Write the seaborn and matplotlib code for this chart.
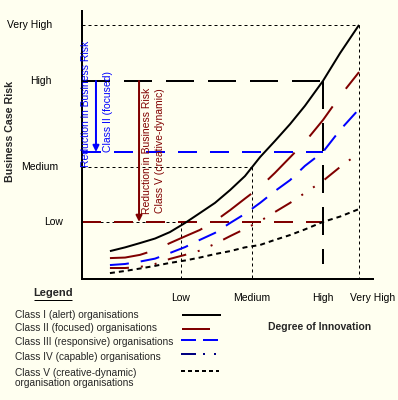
import matplotlib
matplotlib.use("Agg")
import matplotlib.pyplot as plt
import seaborn as sns
from matplotlib.lines import Line2D

# ---------------- data ----------------
innovation = [9.6, 14.8, 19.9, 25.1, 30.2, 35.4, 40.5, 45.7, 50.9, 56.0,
              61.2, 66.3, 71.5, 76.6, 82.8, 88.7, 95.2]
class_i = [10.4, 11.8, 13.4, 15.1, 17.5, 20.9, 24.6, 28.4, 33.2, 38.4,
           45.5, 51.5, 57.8, 64.6, 73.9, 84.3, 94.8]
class_ii = [7.8, 8.0, 9.0, 10.8, 13.4, 15.9, 18.3, 21.6, 25.7, 30.0,
            34.3, 39.6, 45.4, 51.1, 59.3, 68.3, 77.2]
class_iii = [5.2, 5.6, 6.5, 7.6, 9.7, 11.9, 14.6, 17.2, 20.9, 24.3,
             28.4, 32.8, 36.9, 42.2, 47.4, 55.6, 63.4]
class_iv = [4.1, 4.1, 4.5, 5.6, 7.5, 9.0, 10.6, 13.1, 16.0, 18.7,
            21.6, 25.0, 28.4, 32.1, 36.6, 41.8, 47.0]
class_v = [2.2, 3.0, 3.9, 4.9, 6.0, 6.9, 8.0, 9.3, 10.4, 11.8,
           12.7, 14.6, 16.4, 18.5, 21.3, 23.3, 26.1]

risk_labels = ["Low", "Medium", "High", "Very High"]
risk_values = [21.3, 41.8, 73.9, 94.8]
innov_labels = ["Low", "Medium", "High", "Very High"]
innov_values = [34.0, 58.4, 82.8, 95.2]
class_iii_risk_at_high = 47.4
class_v_risk_at_high = 21.3
high_marker_bottom = 5.6

legend_labels = [
    "Class I (alert) organisations",
    "Class II (focused) organisations",
    "Class III (responsive) organisations",
    "Class IV (capable) organisations",
    "Class V (creative-dynamic)\norganisation organisations",
]

# ---------------- style ----------------
sns.set_theme(style="white")
plt.rcParams["font.family"] = ["Liberation Sans", "DejaVu Sans"]
plt.rcParams["lines.scale_dashes"] = False
plt.rcParams["lines.solid_capstyle"] = "butt"
plt.rcParams["lines.dash_capstyle"] = "butt"

BG = "#FFFFF0"
MAROON = "#800000"
BLUE = "#0000FF"
NAVY = "#000080"


def px(v):
    return v * 0.72


W, H = 398, 400
fig = plt.figure(figsize=(W / 100, H / 100), dpi=100, facecolor=BG)
ax = fig.add_axes([82 / W, 1 - 279 / H, 291 / W, 268 / H])
ax.set_facecolor(BG)
ax.set_xlim(0, 100)
ax.set_ylim(0, 100)
for s in ["top", "right"]:
    ax.spines[s].set_visible(False)
for s in ["left", "bottom"]:
    ax.spines[s].set_color("black")
    ax.spines[s].set_linewidth(px(2))
ax.set_xticks([])
ax.set_yticks([])
ax.set_xlabel("")
ax.set_ylabel("")

dotted = dict(color="black", lw=px(1), linestyle=(0, (px(3), px(3))))
# dotted guide lines
ax.plot([0, innov_values[3]], [risk_values[3]] * 2, **dotted)
ax.plot([innov_values[3]] * 2, [risk_values[3], 0], **dotted)
ax.plot([0, innov_values[1]], [risk_values[1]] * 2, **dotted)
ax.plot([innov_values[1]] * 2, [risk_values[1], 0], **dotted)
ax.plot([0, innov_values[0]], [risk_values[0]] * 2, **dotted)
ax.plot([innov_values[0]] * 2, [risk_values[0], 0], **dotted)

# dashed markers at High innovation
ax.plot([0, innov_values[2]], [risk_values[2]] * 2, color="black", lw=px(2),
        linestyle=(0, (px(28), px(14))), zorder=3)
ax.plot([innov_values[2]] * 2, [risk_values[2], high_marker_bottom], color="black",
        lw=px(2), linestyle=(0, (px(28), px(14))))
ax.plot([0, innov_values[2]], [class_iii_risk_at_high] * 2, color=BLUE, lw=px(2),
        linestyle=(0, (px(19), px(13))))
ax.plot([0, innov_values[2]], [class_v_risk_at_high] * 2, color=MAROON, lw=px(2),
        linestyle=(0, (px(19), px(13))))

# curves
curves = [
    (class_i, "black", "-"),
    (class_ii, MAROON, (0, (px(38), px(22)))),
    (class_iii, BLUE, (0, (px(19), px(12)))),
    (class_iv, MAROON, (0, (px(19), px(12), px(2), px(12), px(2), px(12)))),
    (class_v, "black", (0, (px(5), px(4)))),
]
for yv, col, ls in curves:
    sns.lineplot(x=innovation, y=yv, ax=ax, color=col, lw=px(2), linestyle=ls,
                 legend=False, sort=False)

# arrows
ax.annotate("", xy=(4.8, class_iii_risk_at_high), xytext=(4.8, risk_values[2]),
            arrowprops=dict(arrowstyle="-|>", color=BLUE, lw=px(2),
                            mutation_scale=9, shrinkA=0, shrinkB=0))
ax.annotate("", xy=(19.6, class_v_risk_at_high), xytext=(19.6, risk_values[2]),
            arrowprops=dict(arrowstyle="-|>", color=MAROON, lw=px(2),
                            mutation_scale=9, shrinkA=0, shrinkB=0))

fs = 7.5
ax.text(1.5, 65.5, "Reduction in Business Risk", rotation=90, color=BLUE,
        fontsize=fs, ha="center", va="center")
ax.text(9.1, 62.5, "Class II (focused)", rotation=90, color=BLUE,
        fontsize=fs, ha="center", va="center")
ax.text(22.3, 47.9, "Reduction in Business Risk", rotation=90, color=MAROON,
        fontsize=fs, ha="center", va="center")
ax.text(26.8, 47.9, "Class V (creative-dynamic)", rotation=90, color=MAROON,
        fontsize=fs, ha="center", va="center")

# risk (y) labels
ytr = ax.get_yaxis_transform()
ylab_x = [-0.098, -0.144, -0.142, -0.179]
for lab, v, xx in zip(risk_labels, risk_values, ylab_x):
    ax.text(xx, v, lab, transform=ytr, fontsize=fs, ha="center", va="center",
            color="black")

# innovation (x) labels
xtr = ax.get_xaxis_transform()
xlab_dx = [0, 0, 0, 4.5]
for lab, v, dx in zip(innov_labels, innov_values, xlab_dx):
    ax.text(v + dx, -0.071, lab, transform=xtr, fontsize=fs, ha="center",
            va="center", color="black")

# axis titles
fig.text(10.5 / W, 1 - 131.5 / H, "Business Case Risk", rotation=90,
         fontsize=7.7, fontweight="bold", ha="center", va="center")
fig.text(320 / W, 1 - 327 / H, "Degree of Innovation", fontsize=7.5,
         fontweight="bold", ha="center", va="center")

# legend block
fig.text(53 / W, 1 - 293 / H, "Legend", fontsize=8, fontweight="bold",
         ha="center", va="center")
fig.add_artist(Line2D([34 / W, 72 / W], [1 - 300 / H] * 2, color="black",
                      lw=px(1)))

text_y = [315, 328, 342, 357, 378]
sample_y = [315, 329, 340, 354, 371]
sample_x = [(182, 221), (182, 210), (181, 218), (181, 216), (181, 219)]
sample_style = [
    ("black", "-"),
    (MAROON, "-"),
    (BLUE, (0, (px(15), px(7)))),
    (NAVY, (0, (px(15), px(7), px(2), px(9), px(2), px(9)))),
    ("black", (0, (px(4), px(3)))),
]
for lab, ty, sy, (x0, x1), (col, ls) in zip(legend_labels, text_y, sample_y,
                                             sample_x, sample_style):
    fig.text(15 / W, 1 - ty / H, lab, fontsize=7.3, ha="left", va="center",
             linespacing=1.1)
    fig.add_artist(Line2D([x0 / W, x1 / W], [1 - sy / H] * 2, color=col,
                          lw=px(2), linestyle=ls))

fig.savefig("out.png", dpi=100, facecolor=BG)
